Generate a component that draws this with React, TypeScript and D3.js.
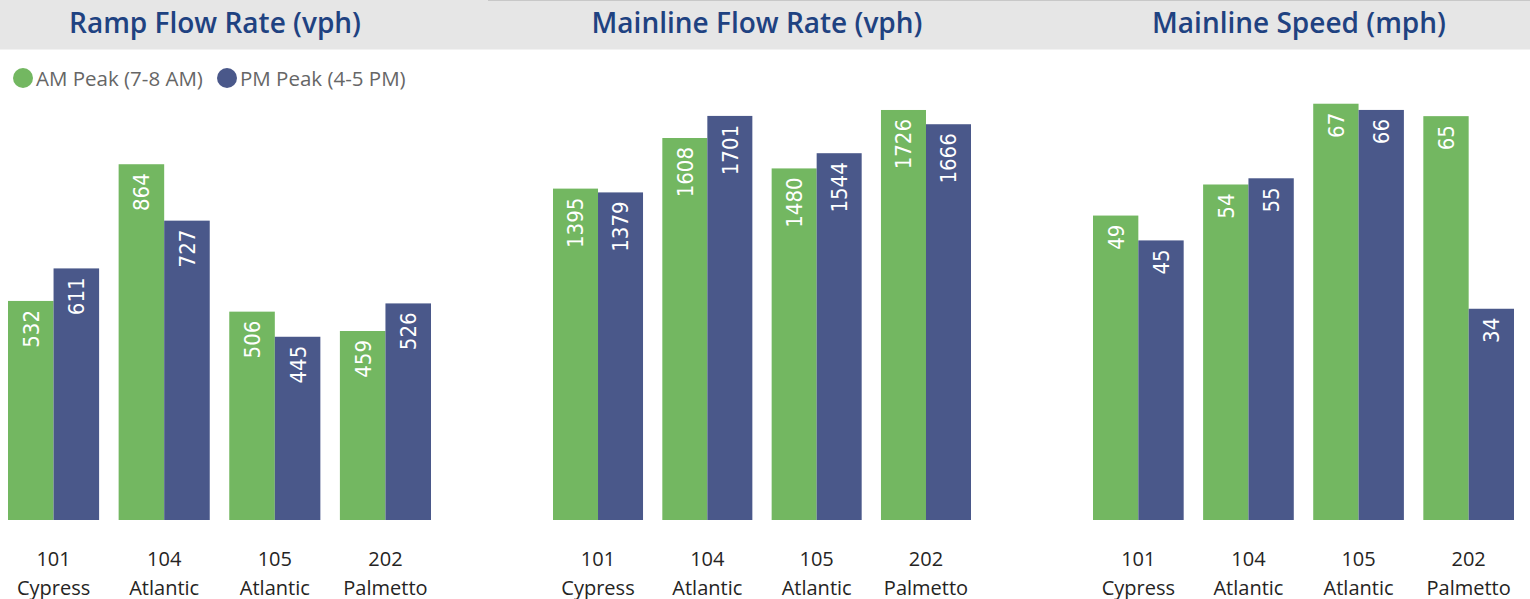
import React from "react";
import * as d3 from "d3";

const categories = ["101 Cypress", "104 Atlantic", "105 Atlantic", "202 Palmetto"];
const seriesNames = ["AM Peak (7-8 AM)", "PM Peak (4-5 PM)"];
const seriesColors = ["#73B761", "#4A588A"];

const panelTitles = ["Ramp Flow Rate (vph)", "Mainline Flow Rate (vph)", "Mainline Speed (mph)"];
const rampAM = [532, 864, 506, 459];
const rampPM = [611, 727, 445, 526];
const mainFlowAM = [1395, 1608, 1480, 1726];
const mainFlowPM = [1379, 1701, 1544, 1666];
const speedAM = [49, 54, 67, 65];
const speedPM = [45, 55, 66, 34];
const panelYMax = [1020, 1768, 67.6];

const W = 1530;
const H = 599;
const plotBottom = 520;
const plotTop = 100;

const panelsX: [number, number][] = [
  [8, 431],
  [553, 971],
  [1093, 1514],
];
const titleCenters = [215, 757, 1299];

const panelData = [
  [rampAM, rampPM],
  [mainFlowAM, mainFlowPM],
  [speedAM, speedPM],
];

function Panel({ idx }: { idx: number }) {
  const [x0, x1] = panelsX[idx];
  const xg = d3.scaleBand<string>().domain(categories).range([x0, x1]).paddingInner(0.1765).paddingOuter(0);
  const xs = d3.scaleBand<number>().domain([0, 1]).range([0, xg.bandwidth()]).padding(0);
  const y = d3.scaleLinear().domain([0, panelYMax[idx]]).range([plotBottom, plotTop]);
  const series = panelData[idx];
  const fmt = d3.format(".0f");
  return (
    <g>
      <text
        x={titleCenters[idx]}
        y={33}
        textAnchor="middle"
        fontFamily="'Open Sans', sans-serif"
        fontWeight={600}
        fontSize={28}
        fill="#1F4281"
      >
        {panelTitles[idx]}
      </text>
      {categories.map((c, ci) => (
        <g key={c}>
          {series.map((vals, si) => {
            const bx = (xg(c) as number) + (xs(si) as number);
            const by = y(vals[ci]);
            const cx = bx + xs.bandwidth() / 2;
            return (
              <g key={si}>
                <rect x={bx} y={by} width={xs.bandwidth()} height={plotBottom - by} fill={seriesColors[si]} />
                <text
                  transform={`translate(${cx},${by + 9}) rotate(-90)`}
                  textAnchor="end"
                  dy="0.36em"
                  fontFamily="'Liberation Sans Narrow', 'DejaVu Sans Condensed', sans-serif"
                  fontSize={22}
                  fill="#ffffff"
                >
                  {fmt(vals[ci])}
                </text>
              </g>
            );
          })}
          {c.split(" ").map((line, li) => (
            <text
              key={li}
              x={(xg(c) as number) + xg.bandwidth() / 2}
              y={566 + li * 29}
              textAnchor="middle"
              fontFamily="'Open Sans', sans-serif"
              fontSize={20}
              fill="#252423"
            >
              {line}
            </text>
          ))}
        </g>
      ))}
    </g>
  );
}

export default function App() {
  const legendX = [23, 227];
  return (
    <div style={{ position: "fixed", left: 0, top: 0 }}>
      <svg width={W} height={H} style={{ display: "block" }}>
        <rect x={0} y={0} width={W} height={H} fill="#ffffff" />
        <rect x={0} y={0} width={W} height={49.5} fill="#E6E6E6" />
        <line x1={488} x2={W} y1={0.5} y2={0.5} stroke="#C8C8C8" strokeWidth={1} />
        {seriesNames.map((s, i) => (
          <g key={s}>
            <circle cx={legendX[i]} cy={78} r={10} fill={seriesColors[i]} />
            <text
              x={legendX[i] + 13}
              y={85.5}
              fontFamily="'Open Sans', sans-serif"
              fontSize={20.5}
              fill="#666666"
            >
              {s}
            </text>
          </g>
        ))}
        {[0, 1, 2].map((i) => (
          <Panel key={i} idx={i} />
        ))}
      </svg>
    </div>
  );
}
